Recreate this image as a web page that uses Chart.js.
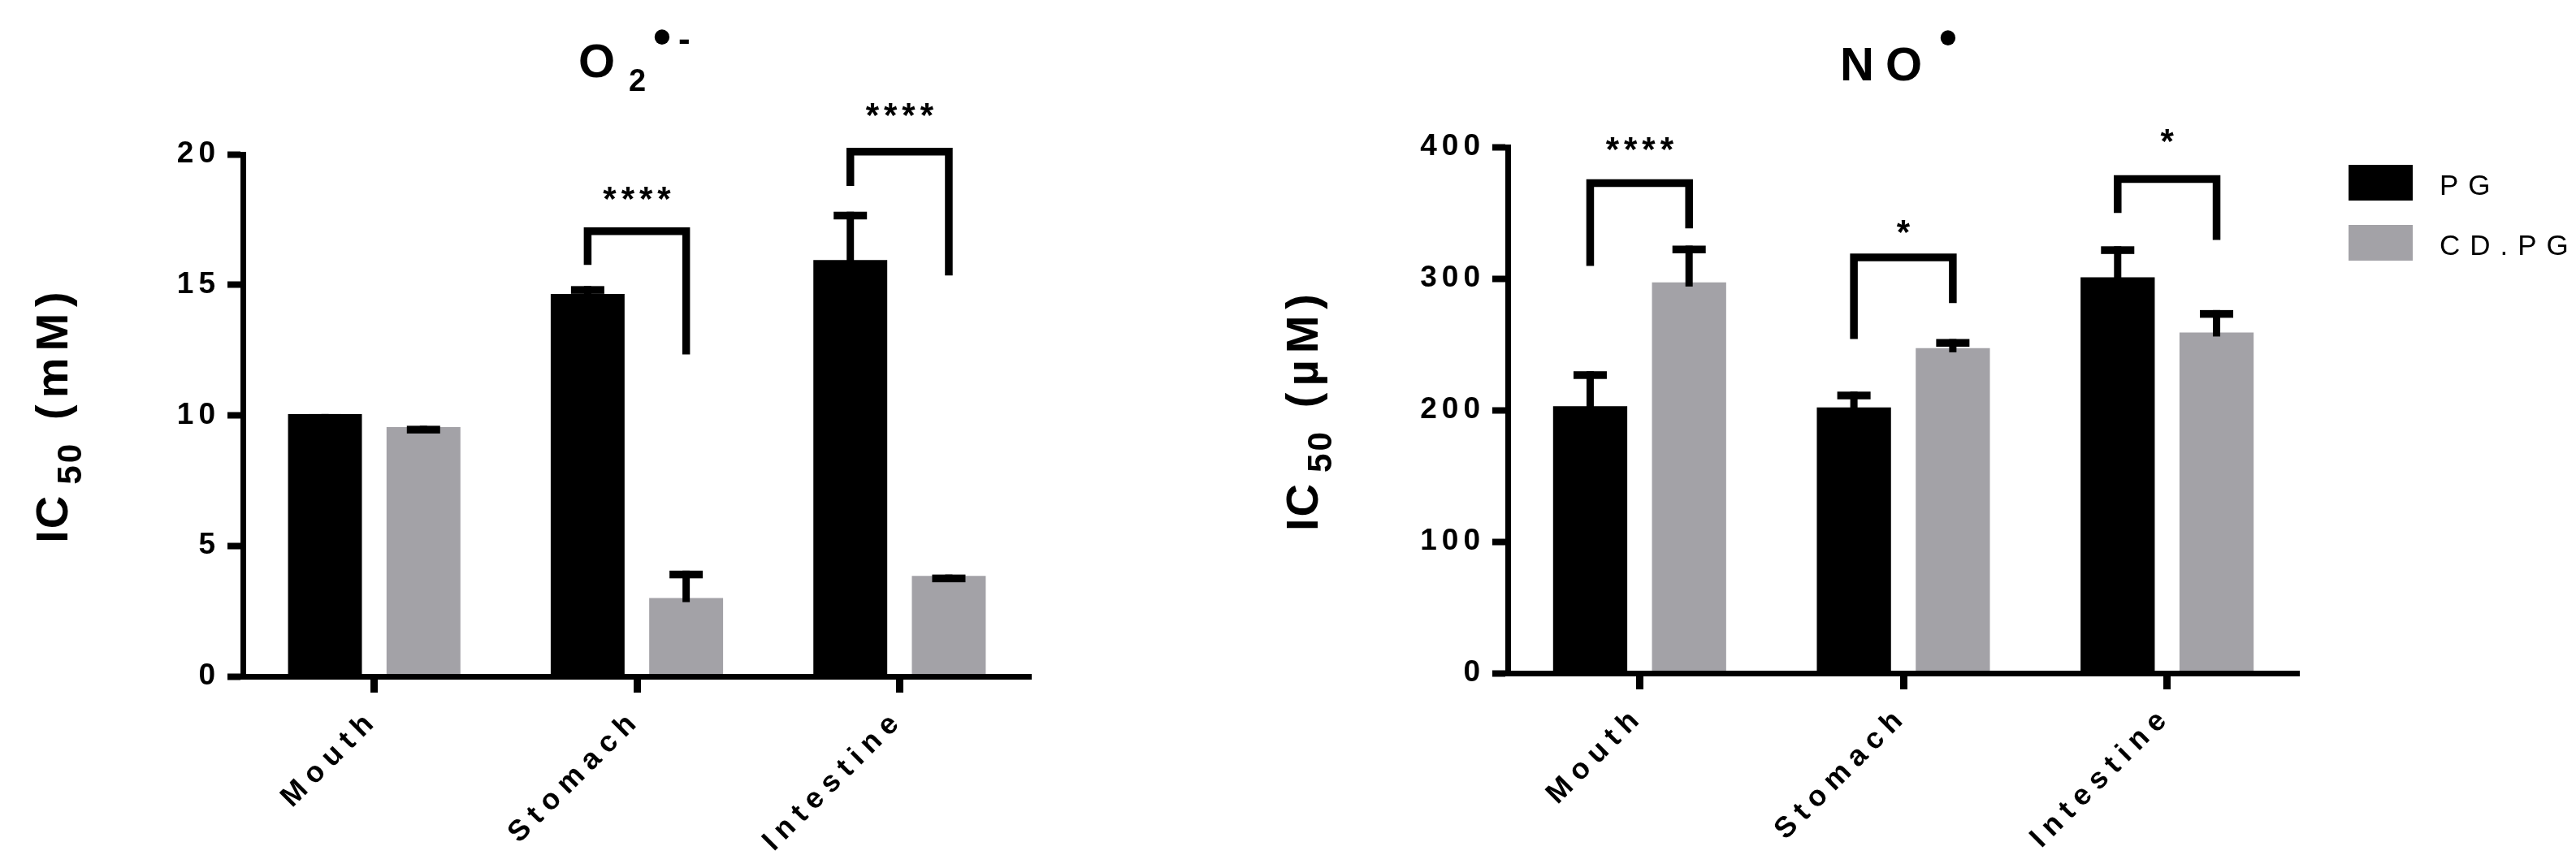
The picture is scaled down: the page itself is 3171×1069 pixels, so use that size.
<!DOCTYPE html>
<html>
<head>
<meta charset="utf-8">
<title>IC50 O2 and NO</title>
<script src="https://cdn.jsdelivr.net/npm/chart.js@4.4.1/dist/chart.umd.min.js"></script>
<style>
  html, body { margin: 0; padding: 0; background: #fff; }
  body { width: 3171px; height: 1069px; position: relative; overflow: hidden; }
  canvas { position: absolute; top: 0; }
  #o2 { left: 0; }
  #no { left: 1560px; }
</style>
</head>
<body>
<canvas id="o2" width="1560" height="1069"></canvas>
<canvas id="no" width="1611" height="1069"></canvas>
<script>
const FONT = "'Liberation Sans', Arial, Helvetica, sans-serif"

const categories = ['Mouth', 'Stomach', 'Intestine']
const seriesNames = ['PG', 'CD.PG']
const seriesColors = ['#000000', '#a3a2a7']

// O2•- panel, IC50 in mM (err = height of the upper error bar)
const o2PG = [10.05, 14.65, 15.95]
const o2PGErr = [0, 0.3, 1.85]
const o2CDPG = [9.55, 3.0, 3.85]
const o2CDPGErr = [0.05, 1.05, 0.05]
const o2Ticks = [0, 5, 10, 15, 20]
// significance brackets (category, bar top, left leg end, right leg end, star level, text)
const o2SigCat = [1, 2]
const o2SigTop = [17.05, 20.1]
const o2SigLeft = [15.76, 18.79]
const o2SigRight = [12.33, 15.36]
const o2SigStar = [18.58, 21.76]
const o2SigText = ['****', '****']

// NO• panel, IC50 in µM
const noPG = [203, 202, 301]
const noPGErr = [26.5, 12, 23.5]
const noCDPG = [297, 247, 259]
const noCDPGErr = [28, 7, 17]
const noTicks = [0, 100, 200, 300, 400]
const noSigCat = [0, 1, 2]
const noSigTop = [372.5, 316, 375.6]
const noSigLeft = [309.5, 254, 349.9]
const noSigRight = [338.1, 281.3, 329.3]
const noSigStar = [404, 341, 409.6]
const noSigText = ['****', '*', '*']

// draws text with letter spacing, align is 'left' | 'center' | 'right'
function spaced(ctx, text, x, y, size, weight, spacing, align) {
    ctx.font = `${weight} ${size}px ${FONT}`
    ctx.letterSpacing = '0px'
    const w = ctx.measureText(text).width + spacing * (text.length - 1)
    ctx.letterSpacing = spacing + 'px'
    ctx.textAlign = 'left'
    let x0 = x
    if (align === 'center') x0 = x - w / 2
    if (align === 'right') x0 = x - w
    ctx.fillText(text, x0, y)
    return w
}

function textWidth(ctx, text, size, weight, spacing) {
    ctx.font = `${weight} ${size}px ${FONT}`
    ctx.letterSpacing = '0px'
    return ctx.measureText(text).width + spacing * (text.length - 1)
}

// tick labels get GraphPad-like letter spacing
const spacing = {
    id: 'spacing',
    beforeDraw(chart) {
        Object.values(chart.scales).forEach(s => {
            if (s._spaced) return
            const orig = s.drawLabels
            s.drawLabels = function (area) {
                this.ctx.save()
                this.ctx.letterSpacing = (this.axis === 'x' ? 9 : 6) + 'px'
                orig.call(this, area)
                this.ctx.restore()
            }
            s._spaced = true
        })
    }
}

function makeDecor(p) {
    return {
        id: 'decor',
        afterDatasetsDraw(chart) {
            const ctx = chart.ctx
            const y = chart.scales.y
            ctx.save()
            ctx.fillStyle = '#000'
            ctx.strokeStyle = '#000'
            chart.data.datasets.forEach((ds, d) => {
                chart.getDatasetMeta(d).data.forEach((bar, i) => {
                    const yTop = y.getPixelForValue(ds.data[i] + ds.errors[i])
                    const yBar = y.getPixelForValue(ds.data[i])
                    ctx.fillRect(bar.x - 4.5, yTop, 9, yBar + 5 - yTop)
                    ctx.fillRect(bar.x - 20.5, yTop, 41, 9.5)
                })
            })
            const m0 = chart.getDatasetMeta(0).data
            const m1 = chart.getDatasetMeta(1).data
            p.sigCat.forEach((c, k) => {
                const xl = m0[c].x
                const xr = m1[c].x
                const yt = y.getPixelForValue(p.sigTop[k])
                ctx.lineWidth = 9.5
                ctx.lineJoin = 'miter'
                ctx.lineCap = 'butt'
                ctx.beginPath()
                ctx.moveTo(xl, y.getPixelForValue(p.sigLeft[k]))
                ctx.lineTo(xl, yt)
                ctx.lineTo(xr, yt)
                ctx.lineTo(xr, y.getPixelForValue(p.sigRight[k]))
                ctx.stroke()
                spaced(ctx, p.sigText[k], (xl + xr) / 2, y.getPixelForValue(p.sigStar[k]) + 23, 42, 'bold', 6, 'center')
            })
            ctx.restore()
        },
        afterDraw(chart) {
            const ctx = chart.ctx
            const area = chart.chartArea
            const cx = (area.left + area.right) / 2
            ctx.save()
            ctx.fillStyle = '#000'
            ctx.textBaseline = 'alphabetic'
            p.title(ctx, cx)

            // rotated y axis title: IC, subscript 50, unit
            const parts = [
                { t: 'IC', size: 56, sp: 2, dy: 0, gap: 14 },
                { t: '50', size: 42, sp: 3, dy: 17, gap: 30 },
                { t: p.unit, size: 56, sp: 8, dy: 0, gap: 0 },
            ]
            let total = 0
            parts.forEach(q => { q.w = textWidth(ctx, q.t, q.size, 'bold', q.sp); total += q.w + q.gap })
            ctx.translate(p.yTitleX, p.yTitleY)
            ctx.rotate(-Math.PI / 2)
            let u = -total / 2
            parts.forEach(q => {
                spaced(ctx, q.t, u, q.dy, q.size, 'bold', q.sp, 'left')
                u += q.w + q.gap
            })
            ctx.setTransform(1, 0, 0, 1, 0, 0)

            if (p.legend) {
                chart.data.datasets.forEach((ds, d) => {
                    const top = area.top + 22 + d * 74
                    ctx.fillStyle = ds.backgroundColor
                    ctx.fillRect(area.right + 61, top, 79, 44)
                    ctx.fillStyle = '#000'
                    spaced(ctx, ds.label, area.right + 173, top + 37, 35, 'normal', 12, 'left')
                })
            }
            ctx.restore()
        }
    }
}

function buildChart(id, p) {
    return new Chart(document.getElementById(id), {
        type: 'bar',
        data: {
            labels: categories,
            datasets: [
                { label: seriesNames[0], data: p.pg, errors: p.pgErr, backgroundColor: seriesColors[0] },
                { label: seriesNames[1], data: p.cd, errors: p.cdErr, backgroundColor: seriesColors[1] },
            ]
        },
        options: {
            responsive: false,
            animation: false,
            events: [],
            layout: { padding: { top: p.top, right: p.right, bottom: 0, left: 0 } },
            datasets: { bar: { categoryPercentage: 0.75, barPercentage: 0.75, borderWidth: 0 } },
            plugins: { legend: { display: false }, tooltip: { enabled: false } },
            scales: {
                x: {
                    grid: { drawOnChartArea: false, drawTicks: true, offset: false, tickLength: 20, tickWidth: 9, color: '#000' },
                    border: { color: '#000', width: 7, z: 1 },
                    ticks: {
                        autoSkip: false, minRotation: 45, maxRotation: 45, padding: 12, color: '#000',
                        font: { family: FONT, size: 36, weight: 'bold' }
                    },
                    afterFit: s => { s.height = p.xHeight }
                },
                y: {
                    min: p.ticks[0],
                    max: p.ticks[p.ticks.length - 1],
                    afterBuildTicks: s => { s.ticks = p.ticks.map(v => ({ value: v })) },
                    grid: { drawOnChartArea: false, tickLength: 19, tickWidth: 8, color: '#000' },
                    border: { color: '#000', width: 7, z: 1 },
                    ticks: { padding: 9, color: '#000', font: { family: FONT, size: 37, weight: 'bold' } },
                    afterFit: s => { s.width = p.yWidth }
                }
            }
        },
        plugins: [spacing, makeDecor(p)]
    })
}

buildChart('o2', {
    pg: o2PG, pgErr: o2PGErr, cd: o2CDPG, cdErr: o2CDPGErr, ticks: o2Ticks,
    sigCat: o2SigCat, sigTop: o2SigTop, sigLeft: o2SigLeft, sigRight: o2SigRight, sigStar: o2SigStar, sigText: o2SigText,
    top: 190, right: 291, xHeight: 236, yWidth: 299,
    unit: '(mM)', yTitleX: 83, yTitleY: 514, legend: false,
    title(ctx, cx) {
        spaced(ctx, 'O', cx - 72, 95, 58, 'bold', 0, 'left')
        spaced(ctx, '2', cx - 10, 112, 38, 'bold', 0, 'left')
        ctx.textBaseline = 'middle'
        spaced(ctx, '\u2022', cx + 31, 49, 64, 'bold', 0, 'center')
        ctx.textBaseline = 'alphabetic'
        spaced(ctx, '-', cx + 51, 63, 44, 'bold', 0, 'left')
    }
})

buildChart('no', {
    pg: noPG, pgErr: noPGErr, cd: noCDPG, cdErr: noCDPGErr, ticks: noTicks,
    sigCat: noSigCat, sigTop: noSigTop, sigLeft: noSigLeft, sigRight: noSigRight, sigStar: noSigStar, sigText: noSigText,
    top: 181, right: 341, xHeight: 240, yWidth: 296,
    unit: '(\u00b5M)', yTitleX: 62, yTitleY: 508, legend: true,
    title(ctx, cx) {
        spaced(ctx, 'NO', cx - 78, 99, 58, 'bold', 14, 'left')
        ctx.textBaseline = 'middle'
        spaced(ctx, '\u2022', cx + 55, 50, 64, 'bold', 0, 'center')
        ctx.textBaseline = 'alphabetic'
    }
})
</script>
</body>
</html>
